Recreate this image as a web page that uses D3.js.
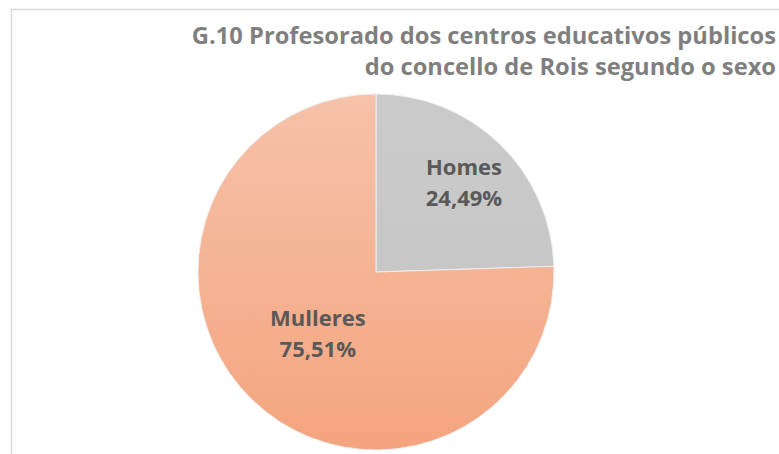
<!DOCTYPE html>
<html>
<head>
<meta charset="utf-8">
<script src="https://cdn.jsdelivr.net/npm/d3@7"></script>
<style>
  body { margin: 0; background: #fff; }
  text { font-family: "Open Sans", "Noto Sans", sans-serif; font-weight: bold; }
</style>
</head>
<body>
<svg id="chart"></svg>
<script>
// Data
const categories = ["Homes", "Mulleres"];
const values = [24.49, 75.51];
const titleLines = [
  "G.10 Profesorado dos centros educativos públicos",
  "do concello de Rois segundo o sexo"
];

const width = 779;
const height = 454;

const svg = d3.select("#chart").attr("width", width).attr("height", height);

// chart area frame (only top and left edges visible)
svg.append("rect")
  .attr("x", 11.5).attr("y", 9.5)
  .attr("width", 800).attr("height", 500)
  .attr("fill", "none")
  .attr("stroke", "#d9d9d9")
  .attr("stroke-width", 1.5);

const defs = svg.append("defs");
const cx = 376, cy = 272, r = 178;

// gradients are in the pie group's local coordinates
const gradF = defs.append("linearGradient")
  .attr("id", "gradF")
  .attr("gradientUnits", "userSpaceOnUse")
  .attr("x1", 0).attr("y1", -r).attr("x2", 0).attr("y2", r);
gradF.append("stop").attr("offset", "0%").attr("stop-color", "#f6c2aa");
gradF.append("stop").attr("offset", "100%").attr("stop-color", "#f4a47e");

const gradM = defs.append("linearGradient")
  .attr("id", "gradM")
  .attr("gradientUnits", "userSpaceOnUse")
  .attr("x1", 0).attr("y1", -r).attr("x2", 0).attr("y2", r);
gradM.append("stop").attr("offset", "0%").attr("stop-color", "#cacaca");
gradM.append("stop").attr("offset", "100%").attr("stop-color", "#c4c4c4");

const fills = { Homes: "url(#gradM)", Mulleres: "url(#gradF)" };
// label distance from centre, as a share of the radius
const labelPos = { Homes: 0.71, Mulleres: 0.47 };

const pieData = categories.map((c, i) => ({ name: c, value: values[i] }));

const pie = d3.pie().value(d => d.value).sort(null);
const arc = d3.arc().innerRadius(0).outerRadius(r);

const g = svg.append("g").attr("transform", `translate(${cx},${cy})`);

g.selectAll("path")
  .data(pie(pieData))
  .enter()
  .append("path")
  .attr("d", arc)
  .attr("fill", d => fills[d.data.name])
  .attr("stroke", "#eeeeee")
  .attr("stroke-width", 1);

// labels
const labels = g.selectAll(".lbl")
  .data(pie(pieData))
  .enter()
  .append("text")
  .attr("class", "lbl")
  .attr("text-anchor", "middle")
  .attr("fill", "#595959")
  .attr("font-size", 22)
  .attr("transform", d => {
    const k = r * labelPos[d.data.name];
    const [x, y] = d3.arc().innerRadius(k).outerRadius(k).centroid(d);
    return `translate(${x},${y})`;
  });
labels.append("tspan").attr("x", 0).attr("y", -6).text(d => d.data.name);
labels.append("tspan").attr("x", 0).attr("y", 25)
  .text(d => d.data.value.toFixed(2).replace(".", ",") + "%");

// title
svg.append("g").selectAll("text")
  .data(titleLines)
  .enter()
  .append("text")
  .attr("x", 776)
  .attr("y", (d, i) => 44 + i * 31)
  .attr("text-anchor", "end")
  .attr("fill", "#7f7f7f")
  .attr("font-size", 23.7)
  .text(d => d);
</script>
</body>
</html>
